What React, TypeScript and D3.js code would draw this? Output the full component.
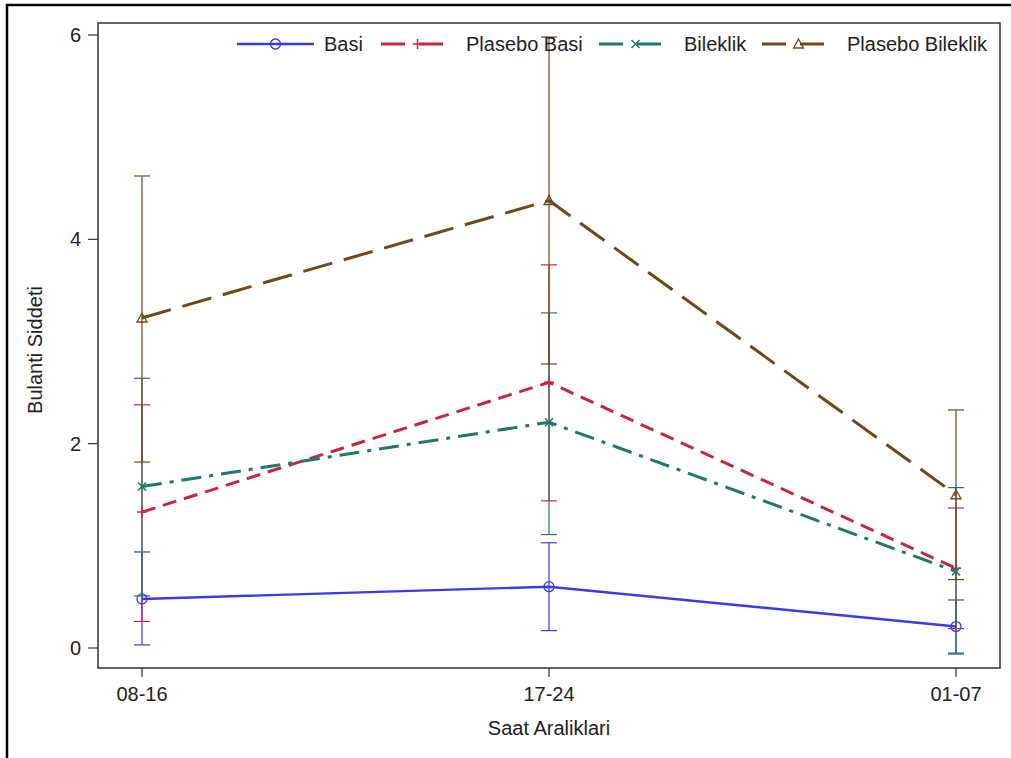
import React from "react";
import * as d3 from "d3";

// categories on the x axis
const hours = ["08-16", "17-24", "01-07"];
const yTicks = [0, 2, 4, 6];

// series means
const basi = [0.48, 0.6, 0.21];
const plaseboBasi = [1.33, 2.6, 0.78];
const bileklik = [1.58, 2.21, 0.75];
const plaseboBileklik = [3.23, 4.38, 1.5];

// error bar limits
const basiLow = [0.03, 0.17, -0.05];
const basiHigh = [0.94, 1.03, 0.47];
const plaseboBasiLow = [0.26, 1.44, 0.19];
const plaseboBasiHigh = [2.38, 3.75, 1.37];
const bileklikLow = [0.51, 1.11, -0.06];
const bileklikHigh = [2.64, 3.28, 1.57];
const plaseboBileklikLow = [1.82, 2.78, 0.67];
const plaseboBileklikHigh = [4.62, 5.98, 2.33];

const seriesNames = ["Basi", "Plasebo Basi", "Bileklik", "Plasebo Bileklik"];

const FONT = "'Liberation Sans', Arial, sans-serif";

const series = [
  { name: seriesNames[0], values: basi, low: basiLow, high: basiHigh, color: "#3a3ae6", dash: "none", marker: "circle" },
  { name: seriesNames[1], values: plaseboBasi, low: plaseboBasiLow, high: plaseboBasiHigh, color: "#c4283f", dash: "14 8", marker: "plus" },
  { name: seriesNames[2], values: bileklik, low: bileklikLow, high: bileklikHigh, color: "#22776b", dash: "20 8 4 8", marker: "x" },
  { name: seriesNames[3], values: plaseboBileklik, low: plaseboBileklikLow, high: plaseboBileklikHigh, color: "#6e4a1b", dash: "30 12", marker: "triangle" },
];

const Marker = ({ type, x, y, color }: { type: string; x: number; y: number; color: string }) => {
  const s = 5;
  if (type === "circle")
    return <circle cx={x} cy={y} r={s} fill="none" stroke={color} strokeWidth={1.3} />;
  if (type === "plus")
    return (
      <path d={`M${x - s},${y}H${x + s}M${x},${y - s}V${y + s}`} stroke={color} strokeWidth={1.5} />
    );
  if (type === "x")
    return (
      <path
        d={`M${x - 4},${y - 4}L${x + 4},${y + 4}M${x - 4},${y + 4}L${x + 4},${y - 4}`}
        stroke={color}
        strokeWidth={1.5}
      />
    );
  return (
    <path
      d={`M${x},${y - 5}L${x + 5},${y + 4}L${x - 5},${y + 4}Z`}
      fill="none"
      stroke={color}
      strokeWidth={1.3}
    />
  );
};

export default function App() {
  const frame = { left: 98, top: 23, right: 1000, bottom: 668 };

  const x = d3.scalePoint<string>().domain(hours).range([142, 956]);
  const y = d3.scaleLinear().domain([0, 6]).range([648, 35]);

  const line = d3
    .line<number>()
    .x((_, i) => x(hours[i]) as number)
    .y((d) => y(d));

  // legend layout
  const legendX = [237, 379, 597, 760];
  const legendY = 44;
  const legendLen = 77;

  return (
    <div style={{ position: "absolute", left: 0, top: 0 }}>
      <svg width={1011} height={758} style={{ display: "block", fontFamily: FONT }}>
        <rect x={0} y={0} width={1011} height={758} fill="#fff" />
        {/* outer frame */}
        <rect x={7} y={5} width={1020} height={780} fill="none" stroke="#000" strokeWidth={2.5} />

        {/* error bars */}
        {series.map((s) =>
          hours.map((h, i) => {
            const cx = x(h) as number;
            return (
              <g key={s.name + h} stroke={s.color} strokeWidth={1.2}>
                <line x1={cx} x2={cx} y1={y(s.low[i])} y2={y(s.high[i])} />
                <line x1={cx - 8} x2={cx + 8} y1={y(s.low[i])} y2={y(s.low[i])} />
                <line x1={cx - 8} x2={cx + 8} y1={y(s.high[i])} y2={y(s.high[i])} />
              </g>
            );
          })
        )}

        {/* lines and markers */}
        {series.map((s) => (
          <g key={s.name}>
            <path
              d={line(s.values) || ""}
              fill="none"
              stroke={s.color}
              strokeWidth={s.marker === "circle" ? 2.4 : 3}
              strokeDasharray={s.dash}
            />
            {s.values.map((v, i) => (
              <Marker key={i} type={s.marker} x={x(hours[i]) as number} y={y(v)} color={s.color} />
            ))}
          </g>
        ))}

        {/* plot frame */}
        <rect
          x={frame.left}
          y={frame.top}
          width={frame.right - frame.left}
          height={frame.bottom - frame.top}
          fill="none"
          stroke="#333"
          strokeWidth={1.5}
        />

        {/* y axis */}
        {yTicks.map((t) => (
          <g key={t}>
            <line x1={88} x2={frame.left} y1={y(t)} y2={y(t)} stroke="#333" strokeWidth={1.2} />
            <text x={81} y={y(t) + 7} textAnchor="end" fontSize={20} fill="#222">
              {t}
            </text>
          </g>
        ))}
        <text
          transform={`translate(42,350) rotate(-90)`}
          textAnchor="middle"
          fontSize={20}
          fill="#222"
        >
          Bulanti Siddeti
        </text>

        {/* x axis */}
        {hours.map((h) => (
          <g key={h}>
            <line
              x1={x(h) as number}
              x2={x(h) as number}
              y1={frame.bottom}
              y2={frame.bottom + 9}
              stroke="#333"
              strokeWidth={1.2}
            />
            <text x={x(h) as number} y={701} textAnchor="middle" fontSize={20} fill="#222">
              {h}
            </text>
          </g>
        ))}
        <text x={549} y={735} textAnchor="middle" fontSize={20} fill="#222">
          Saat Araliklari
        </text>

        {/* legend */}
        {series.map((s, i) => {
          const lx = legendX[i];
          return (
            <g key={"lg" + s.name}>
              <line
                x1={lx}
                x2={lx + legendLen}
                y1={legendY}
                y2={legendY}
                stroke={s.color}
                strokeWidth={s.marker === "circle" ? 2.4 : 3}
                strokeDasharray={s.marker === "circle" ? "none" : "24 14"}
                strokeDashoffset={s.marker === "circle" ? 0 : -2}
              />
              <Marker type={s.marker} x={lx + legendLen / 2} y={legendY} color={s.color} />
              <text x={lx + legendLen + 10} y={legendY + 7} fontSize={20} fill="#222">
                {s.name}
              </text>
            </g>
          );
        })}
      </svg>
    </div>
  );
}
